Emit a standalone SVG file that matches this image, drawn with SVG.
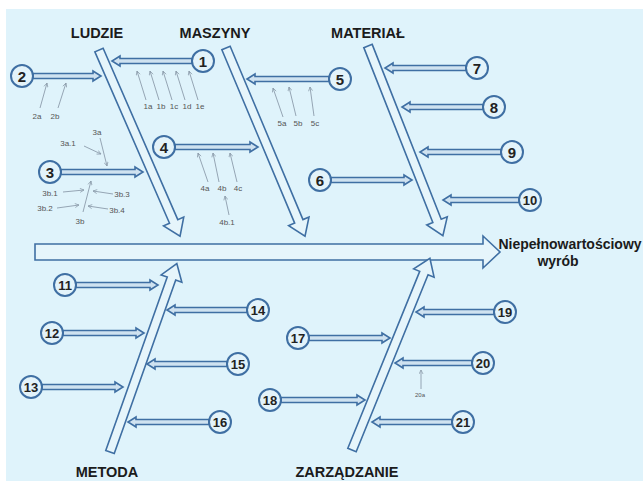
<svg xmlns="http://www.w3.org/2000/svg" width="643" height="481" viewBox="0 0 643 481">
<style>
.bone{fill:#e6f5fb;stroke:#3f6fa3;stroke-width:1.6;stroke-linejoin:miter}
.br{fill:#cfe2f0;stroke:#3f6fa3;stroke-width:1.6}
.nd{fill:#e3f3fa;stroke:#3f6fa3;stroke-width:2}
.num{font-family:"Liberation Sans",Arial,sans-serif;font-weight:bold;font-size:15px;fill:#222;text-anchor:middle}
.num2{font-size:13px}
.ttl{font-family:"Liberation Sans",Arial,sans-serif;font-weight:bold;font-size:14.5px;fill:#1b1b1b;text-anchor:middle}
.sm{font-family:"Liberation Sans",Arial,sans-serif;font-size:8px;fill:#555;text-anchor:middle}
.thin{stroke:#8c9cab;stroke-width:0.9;fill:none;marker-end:url(#ah)}
</style>
<defs>
<marker id="ah" viewBox="0 0 10 10" refX="9" refY="5" markerWidth="5" markerHeight="5" orient="auto" markerUnits="userSpaceOnUse">
<path d="M1,1 L9,5 L1,9" fill="none" stroke="#8c9cab" stroke-width="1.5"/>
</marker>
</defs>
<rect x="0" y="0" width="643" height="481" fill="#ffffff"/>
<rect x="6" y="9" width="637" height="472" fill="#dff3fb"/>

<g id="connectors">
<!-- spine -->
<path id="spine" class="bone" d="M35,244 L483,244 L483,236 L500,252 L483,268 L483,260 L35,260 Z"/>
<!-- bones -->
<path class="bone" transform="translate(99,50) rotate(66.47)" d="M0,-4.5 L187,-4.5 L187,-11 L203,0 L187,11 L187,4.5 L0,4.5 Z"/>
<path class="bone" transform="translate(226,48) rotate(67.21)" d="M0,-4.5 L188,-4.5 L188,-11 L204,0 L188,11 L188,4.5 L0,4.5 Z"/>
<path class="bone" transform="translate(368,46) rotate(68.46)" d="M0,-4.5 L188,-4.5 L188,-11 L204,0 L188,11 L188,4.5 L0,4.5 Z"/>
<path class="bone" transform="translate(110,452) rotate(-70.48)" d="M0,-4.5 L184,-4.5 L184,-11 L200,0 L184,11 L184,4.5 L0,4.5 Z"/>
<path class="bone" transform="translate(352,450) rotate(-67.89)" d="M0,-4.5 L191,-4.5 L191,-11 L207,0 L191,11 L191,4.5 L0,4.5 Z"/>
<!-- branches right-pointing -->
<path class="br" d="M33,73.5 L93,73.5 L93,71 L101,76 L93,81 L93,78.5 L33,78.5 Z"/>
<path class="br" d="M61,169.5 L135,169.5 L135,167 L143,172 L135,177 L135,174.5 L61,174.5 Z"/>
<path class="br" d="M175,144.5 L250,144.5 L250,142 L258,147 L250,152 L250,149.5 L175,149.5 Z"/>
<path class="br" d="M331,177.5 L404,177.5 L404,175 L412,180 L404,185 L404,182.5 L331,182.5 Z"/>
<path class="br" d="M76,282.5 L150,282.5 L150,280 L158,285 L150,290 L150,287.5 L76,287.5 Z"/>
<path class="br" d="M63,330.5 L136,330.5 L136,328 L144,333 L136,338 L136,335.5 L63,335.5 Z"/>
<path class="br" d="M42,384.5 L115,384.5 L115,382 L123,387 L115,392 L115,389.5 L42,389.5 Z"/>
<path class="br" d="M309,335.5 L382,335.5 L382,333 L390,338 L382,343 L382,340.5 L309,340.5 Z"/>
<path class="br" d="M281,397.5 L357,397.5 L357,395 L365,400 L357,405 L357,402.5 L281,402.5 Z"/>
<!-- branches left-pointing -->
<path class="br" d="M192,58.5 L120,58.5 L120,56 L112,61 L120,66 L120,63.5 L192,63.5 Z"/>
<path class="br" d="M329,76.5 L255,76.5 L255,74 L247,79 L255,84 L255,81.5 L329,81.5 Z"/>
<path class="br" d="M466,65.5 L393,65.5 L393,63 L385,68 L393,73 L393,70.5 L466,70.5 Z"/>
<path class="br" d="M483,104.5 L410,104.5 L410,102 L402,107 L410,112 L410,109.5 L483,109.5 Z"/>
<path class="br" d="M501,149.5 L428,149.5 L428,147 L420,152 L428,157 L428,154.5 L501,154.5 Z"/>
<path class="br" d="M519,197.5 L451,197.5 L451,195 L443,200 L451,205 L451,202.5 L519,202.5 Z"/>
<path class="br" d="M247,307.5 L175,307.5 L175,305 L167,310 L175,315 L175,312.5 L247,312.5 Z"/>
<path class="br" d="M227,361.5 L155,361.5 L155,359 L147,364 L155,369 L155,366.5 L227,366.5 Z"/>
<path class="br" d="M209,419.5 L136,419.5 L136,417 L128,422 L136,427 L136,424.5 L209,424.5 Z"/>
<path class="br" d="M494,309.5 L424,309.5 L424,307 L416,312 L424,317 L424,314.5 L494,314.5 Z"/>
<path class="br" d="M472,360.5 L403,360.5 L403,358 L395,363 L403,368 L403,365.5 L472,365.5 Z"/>
<path class="br" d="M452,419.5 L380,419.5 L380,417 L372,422 L380,427 L380,424.5 L452,424.5 Z"/>
<!-- thin sub-cause arrows -->
<line class="thin" x1="146" y1="100" x2="137" y2="71"/>
<line class="thin" x1="159" y1="100" x2="150" y2="71"/>
<line class="thin" x1="172" y1="100" x2="163" y2="71"/>
<line class="thin" x1="185" y1="100" x2="176" y2="71"/>
<line class="thin" x1="198" y1="100" x2="189" y2="71"/>
<line class="thin" x1="40" y1="108" x2="47" y2="83"/>
<line class="thin" x1="58" y1="108" x2="66" y2="83"/>
<line class="thin" x1="100" y1="138" x2="107" y2="166"/>
<line class="thin" x1="84" y1="146" x2="101" y2="154"/>
<line class="thin" x1="83" y1="212" x2="91" y2="181"/>
<line class="thin" x1="63" y1="192" x2="84" y2="190"/>
<line class="thin" x1="57" y1="208" x2="79" y2="205"/>
<line class="thin" x1="113" y1="194" x2="93" y2="191"/>
<line class="thin" x1="108" y1="209" x2="88" y2="206"/>
<line class="thin" x1="208" y1="182" x2="198" y2="153"/>
<line class="thin" x1="219" y1="182" x2="213" y2="153"/>
<line class="thin" x1="237" y1="182" x2="230" y2="153"/>
<line class="thin" x1="229" y1="215" x2="225" y2="196"/>
<line class="thin" x1="283" y1="117" x2="273" y2="88"/>
<line class="thin" x1="296" y1="116" x2="289" y2="87"/>
<line class="thin" x1="314" y1="116" x2="310" y2="87"/>
<line class="thin" x1="421" y1="389" x2="421" y2="370"/>
</g>

<g id="nodes">
<g id="n1"><circle class="nd" cx="203" cy="61" r="11"/><text class="num" x="203" y="66.5">1</text></g>
<g id="n2"><circle class="nd" cx="22" cy="76" r="11"/><text class="num" x="22" y="81.5">2</text></g>
<g id="n3"><circle class="nd" cx="50" cy="172" r="11"/><text class="num" x="50" y="177.5">3</text></g>
<g id="n4"><circle class="nd" cx="164" cy="147" r="11"/><text class="num" x="164" y="152.5">4</text></g>
<g id="n5"><circle class="nd" cx="340" cy="79" r="11"/><text class="num" x="340" y="84.5">5</text></g>
<g id="n6"><circle class="nd" cx="320" cy="180" r="11"/><text class="num" x="320" y="185.5">6</text></g>
<g id="n7"><circle class="nd" cx="477" cy="68" r="11"/><text class="num" x="477" y="73.5">7</text></g>
<g id="n8"><circle class="nd" cx="494" cy="107" r="11"/><text class="num" x="494" y="112.5">8</text></g>
<g id="n9"><circle class="nd" cx="512" cy="152" r="11"/><text class="num" x="512" y="157.5">9</text></g>
<g id="n10"><circle class="nd" cx="530" cy="200" r="11"/><text class="num num2" x="530" y="204.5">10</text></g>
<g id="n11"><circle class="nd" cx="65" cy="285" r="11"/><text class="num num2" x="65" y="289.5">11</text></g>
<g id="n12"><circle class="nd" cx="52" cy="333" r="11"/><text class="num num2" x="52" y="337.5">12</text></g>
<g id="n13"><circle class="nd" cx="31" cy="387" r="11"/><text class="num num2" x="31" y="391.5">13</text></g>
<g id="n14"><circle class="nd" cx="258" cy="310" r="11"/><text class="num num2" x="258" y="314.5">14</text></g>
<g id="n15"><circle class="nd" cx="238" cy="364" r="11"/><text class="num num2" x="238" y="368.5">15</text></g>
<g id="n16"><circle class="nd" cx="220" cy="422" r="11"/><text class="num num2" x="220" y="426.5">16</text></g>
<g id="n17"><circle class="nd" cx="298" cy="338" r="11"/><text class="num num2" x="298" y="342.5">17</text></g>
<g id="n18"><circle class="nd" cx="270" cy="400" r="11"/><text class="num num2" x="270" y="404.5">18</text></g>
<g id="n19"><circle class="nd" cx="505" cy="312" r="11"/><text class="num num2" x="505" y="316.5">19</text></g>
<g id="n20"><circle class="nd" cx="483" cy="363" r="11"/><text class="num num2" x="483" y="367.5">20</text></g>
<g id="n21"><circle class="nd" cx="463" cy="422" r="11"/><text class="num num2" x="463" y="426.5">21</text></g>
</g>

<g id="titles">
<text class="ttl" x="97" y="38">LUDZIE</text>
<text class="ttl" x="215" y="38">MASZYNY</text>
<text class="ttl" x="368" y="38">MATERIAŁ</text>
<text class="ttl" x="107" y="477">METODA</text>
<text class="ttl" x="347" y="477">ZARZĄDZANIE</text>
<text class="ttl" x="570" y="249" style="font-size:14px">Niepełnowartościowy</text>
<text class="ttl" x="558" y="266" style="font-size:14px">wyrób</text>
</g>

<g id="sublabels">
<text class="sm" x="148" y="109">1a</text>
<text class="sm" x="161" y="109">1b</text>
<text class="sm" x="174" y="109">1c</text>
<text class="sm" x="187" y="109">1d</text>
<text class="sm" x="200" y="109">1e</text>
<text class="sm" x="37" y="119">2a</text>
<text class="sm" x="55" y="119">2b</text>
<text class="sm" x="97" y="135">3a</text>
<text class="sm" x="68" y="146">3a.1</text>
<text class="sm" x="50" y="196">3b.1</text>
<text class="sm" x="45" y="211">3b.2</text>
<text class="sm" x="122" y="197">3b.3</text>
<text class="sm" x="117" y="213">3b.4</text>
<text class="sm" x="80" y="224">3b</text>
<text class="sm" x="205" y="191">4a</text>
<text class="sm" x="222" y="191">4b</text>
<text class="sm" x="238" y="191">4c</text>
<text class="sm" x="227" y="225">4b.1</text>
<text class="sm" x="282" y="126">5a</text>
<text class="sm" x="298" y="126">5b</text>
<text class="sm" x="315" y="126">5c</text>
<text class="sm" x="420" y="397" style="font-size:6px">20a</text>
</g>
</svg>
